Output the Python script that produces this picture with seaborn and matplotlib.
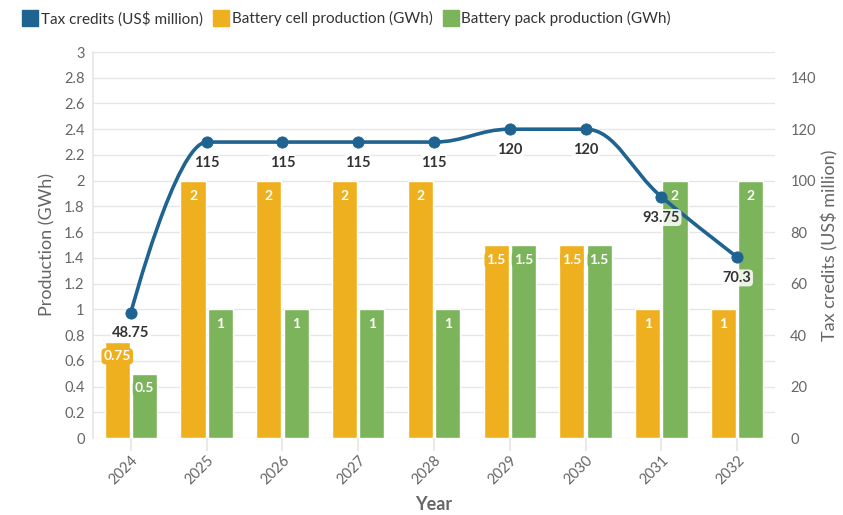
import numpy as np
import pandas as pd
import matplotlib
matplotlib.use("Agg")
import matplotlib.pyplot as plt
from matplotlib.path import Path
from matplotlib.patches import PathPatch
from matplotlib.lines import Line2D
import seaborn as sns

years = ["2024", "2025", "2026", "2027", "2028", "2029", "2030", "2031", "2032"]
cell_prod = [0.75, 2, 2, 2, 2, 1.5, 1.5, 1, 1]
pack_prod = [0.5, 1, 1, 1, 1, 1.5, 1.5, 2, 2]
tax_credits = [48.75, 115, 115, 115, 115, 120, 120, 93.75, 70.3]

C_LINE = "#1f6391"
C_CELL = "#eeb01f"
C_PACK = "#7bb45a"
GRID = "#e6e6e6"
TXT = "#666666"

sns.set_theme(style="white")
plt.rcParams["font.family"] = ["Lato", "DejaVu Sans"]

df = pd.DataFrame({
    "Year": years * 2,
    "val": cell_prod + pack_prod,
    "series": ["Battery cell production (GWh)"] * len(years) + ["Battery pack production (GWh)"] * len(years),
})

fig = plt.figure(figsize=(8.43, 5.15), dpi=100)
ax = fig.add_axes([93 / 843, 1 - 438 / 515, (775 - 93) / 843, (438 - 52) / 515])

sns.barplot(data=df, x="Year", y="val", hue="series", palette=[C_CELL, C_PACK],
            width=0.72, gap=0.08, ax=ax, legend=False, saturation=1, zorder=3)

ax.set_ylim(0, 3)
ax.set_yticks(np.arange(0, 3.01, 0.2))
ax.set_yticklabels([f"{v:g}" for v in np.round(np.arange(0, 3.01, 0.2), 1)])
ax.set_xlim(-0.5, len(years) - 0.5)
ax.grid(axis="y", color=GRID, linewidth=1, zorder=0)
ax.set_axisbelow(True)
for s in ["top", "right", "bottom"]:
    ax.spines[s].set_visible(False)
ax.spines["left"].set_color(GRID)
ax.tick_params(axis="y", length=0, labelsize=10.5, labelcolor=TXT, pad=6)
ax.tick_params(axis="x", length=9, color=GRID, labelsize=10.5, labelcolor=TXT, pad=2, bottom=True)
plt.setp(ax.get_xticklabels(), rotation=45, ha="right", rotation_mode="anchor")
ax.set_xlabel("Year", fontsize=13, fontweight="bold", color=TXT, labelpad=6)
ax.set_ylabel("Production (GWh)", fontsize=13, color=TXT, labelpad=6)

for cont, col in zip(ax.containers, [C_CELL, C_PACK]):
    labels = [f"{b.get_height():g}" for b in cont]
    texts = ax.bar_label(cont, labels=labels, padding=-15, color="white",
                         fontsize=10, fontweight="bold", zorder=5)
    for t in texts:
        t.set_bbox(dict(boxstyle="round,pad=0.15,rounding_size=0.3", fc=col, ec=col, lw=0))

ax2 = ax.twinx()
ax2.set_ylim(0, 150)
ax2.set_yticks(np.arange(0, 141, 20))
for s in ["top", "right", "bottom", "left"]:
    ax2.spines[s].set_visible(False)
ax2.tick_params(axis="y", length=0, labelsize=10.5, labelcolor=TXT, pad=11)
ax2.set_ylabel("Tax credits (US$ million)", fontsize=13, color=TXT, labelpad=4)

# Spline path (Highcharts-style) built from the data
xs = np.arange(len(years), dtype=float)
ys = np.array(tax_credits, dtype=float)
sm = 1.5
n = len(xs)
lc = [(xs[i], ys[i]) for i in range(n)]
rc = [(xs[i], ys[i]) for i in range(n)]
for i in range(1, n - 1):
    lx = (sm * xs[i] + xs[i - 1]) / (sm + 1)
    ly = (sm * ys[i] + ys[i - 1]) / (sm + 1)
    rx = (sm * xs[i] + xs[i + 1]) / (sm + 1)
    ry = (sm * ys[i] + ys[i + 1]) / (sm + 1)
    corr = (ry - ly) * (rx - xs[i]) / (rx - lx) + ys[i] - ry
    ly += corr
    ry += corr
    if ly > ys[i - 1] and ly > ys[i]:
        ly = max(ys[i - 1], ys[i]); ry = 2 * ys[i] - ly
    elif ly < ys[i - 1] and ly < ys[i]:
        ly = min(ys[i - 1], ys[i]); ry = 2 * ys[i] - ly
    if ry > ys[i + 1] and ry > ys[i]:
        ry = max(ys[i + 1], ys[i]); ly = 2 * ys[i] - ry
    elif ry < ys[i + 1] and ry < ys[i]:
        ry = min(ys[i + 1], ys[i]); ly = 2 * ys[i] - ry
    lc[i] = (lx, ly)
    rc[i] = (rx, ry)
verts = [(xs[0], ys[0])]
codes = [Path.MOVETO]
for i in range(1, n):
    verts += [rc[i - 1], lc[i], (xs[i], ys[i])]
    codes += [Path.CURVE4] * 3
ax2.add_patch(PathPatch(Path(verts, codes), fill=False, ec=C_LINE, lw=2.6, zorder=4,
                        capstyle="round", joinstyle="round"))
sns.scatterplot(x=xs, y=ys, color=C_LINE, s=65, edgecolor=C_LINE, ax=ax2, zorder=5, legend=False)
ax2.set_xlim(-0.5, len(years) - 0.5)
for x, y in zip(xs, ys):
    ax2.annotate(f"{y:g}", (x, y), xytext=(0, -15), textcoords="offset points",
                 ha="center", va="center", fontsize=10.5, fontweight="bold", color="#333333",
                 bbox=dict(boxstyle="round,pad=0.1,rounding_size=0.3", fc="white", ec="none", alpha=0.85),
                 zorder=6)

handles = [
    Line2D([], [], marker="s", ls="none", ms=11, mfc=C_LINE, mec=C_LINE),
    Line2D([], [], marker="s", ls="none", ms=11, mfc=C_CELL, mec=C_CELL),
    Line2D([], [], marker="s", ls="none", ms=11, mfc=C_PACK, mec=C_PACK),
]
fig.legend(handles, ["Tax credits (US$ million)", "Battery cell production (GWh)",
                     "Battery pack production (GWh)"],
           loc="upper left", bbox_to_anchor=(0.01, 1.005), ncol=3, frameon=False,
           fontsize=11, handletextpad=0.2, columnspacing=0.7, handlelength=1.0,
           labelcolor="#333333")

fig.savefig("out.png", dpi=100)
